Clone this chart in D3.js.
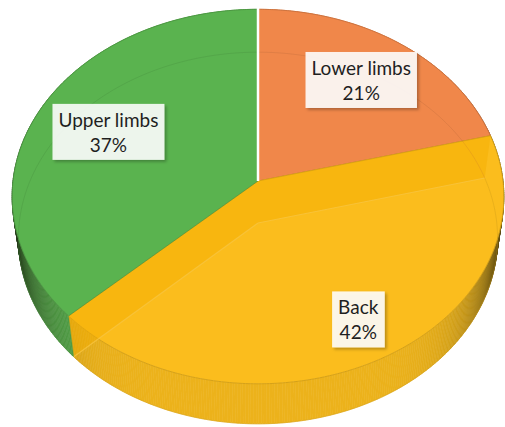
<!DOCTYPE html>
<html>
<head>
<meta charset="utf-8">
<script src="https://cdn.jsdelivr.net/npm/d3@7"></script>
<style>
  html, body { margin: 0; padding: 0; background: #fff; }
</style>
</head>
<body>
<div id="chart"></div>
<script>
var categories = ["Lower limbs", "Back", "Upper limbs"];
var shares = [21, 42, 37];
var sliceColors = ["#F0874A", "#FBBD1D", "#5AB34F"];

var width = 505;
var height = 427;

// 3d view of the pie: scale, camera distance, tilt, thickness
var S = 245;
var D = 7.84;
var phi = Math.asin(0.759);
var cx0 = 258;
var cy0 = 181;
var T = 0.27;
var labelRadius = [0.72, 0.8, 0.68];

function proj(theta, r, y) {
    var X = r * Math.sin(theta), Z = r * Math.cos(theta);
    var yc = y * Math.cos(phi) + Z * Math.sin(phi);
    var zc = -y * Math.sin(phi) + Z * Math.cos(phi) + D;
    return [cx0 + S * D * X / zc, cy0 - S * D * yc / zc];
}

function arcPoints(a0, a1, y) {
    var n = Math.max(2, Math.ceil((a1 - a0) / 0.01));
    var pts = [];
    for (var i = 0; i <= n; i++) {
        pts.push(proj(a0 + (a1 - a0) * i / n, 1, y));
    }
    return pts;
}

var svg = d3.select("#chart").append("svg")
    .attr("width", width)
    .attr("height", height);

var defs = svg.append("defs");
var shadow = defs.append("filter").attr("id", "shadow")
    .attr("x", "-20%").attr("y", "-20%").attr("width", "140%").attr("height", "140%");
shadow.append("feDropShadow")
    .attr("dx", 2).attr("dy", 2)
    .attr("stdDeviation", 1.5)
    .attr("flood-color", "#000")
    .attr("flood-opacity", 0.3);

var pie = d3.pie().sort(null).value(function(d) { return d; });
var arcs = pie(shares);

var line = d3.line();

// outer side walls, shaded like a cylinder
var walls = svg.append("g");
arcs.forEach(function(a, i) {
    var base = d3.interpolateRgb(sliceColors[i], "#000")(0.06);
    var n = Math.ceil((a.endAngle - a.startAngle) / 0.01);
    for (var k = 0; k < n; k++) {
        var t0 = a.startAngle + (a.endAngle - a.startAngle) * k / n;
        var t1 = a.startAngle + (a.endAngle - a.startAngle) * (k + 1) / n;
        var tm = (t0 + t1) / 2;
        var dark = Math.pow(Math.abs(Math.sin(tm)), 7) * 0.8;
        var c = d3.interpolateRgb(base, "#16180c")(dark);
        walls.append("path")
            .attr("d", line([proj(t0, 1, 0), proj(t1, 1, 0), proj(t1, 1, -T), proj(t0, 1, -T)]) + "Z")
            .attr("fill", c)
            .attr("stroke", c)
            .attr("stroke-width", 0.6);
    }
});

// top faces
var tops = svg.append("g");
arcs.forEach(function(a, i) {
    var pts = [proj(0, 0, 0)].concat(arcPoints(a.startAngle, a.endAngle, 0));
    tops.append("path")
        .attr("d", line(pts) + "Z")
        .attr("fill", sliceColors[i])
        .attr("stroke", d3.interpolateRgb(sliceColors[i], "#000")(0.15))
        .attr("stroke-width", 1)
        .attr("stroke-linejoin", "round");
});

// hidden edges seen through the faces
var ghost = svg.append("g");
arcs.forEach(function(a, i) {
    var edge = d3.interpolateRgb(sliceColors[i], "#000")(0.2);
    ghost.append("path")
        .attr("d", line(arcPoints(a.startAngle, a.endAngle, -T)))
        .attr("fill", "none")
        .attr("stroke", edge)
        .attr("stroke-opacity", 0.35)
        .attr("stroke-width", 1);
});
// radial faces of the front slice
var front = arcs[1];
[front.startAngle, front.endAngle].forEach(function(t) {
    ghost.append("path")
        .attr("d", line([proj(t, 0, 0), proj(t, 1, 0), proj(t, 1, -T), proj(t, 0, -T)]) + "Z")
        .attr("fill", "#F4AE00")
        .attr("fill-opacity", 0.45);
    ghost.append("path")
        .attr("d", line([proj(t, 0, -T), proj(t, 1, -T)]))
        .attr("stroke", "#F8C440")
        .attr("stroke-opacity", 0.8)
        .attr("stroke-width", 1.2);
});

// white gap between the two back slices
svg.append("path")
    .attr("d", line([proj(0, 0, 0), proj(0, 1.01, 0)]))
    .attr("stroke", "#fff")
    .attr("stroke-width", 2.5);

// labels
var labels = svg.append("g")
    .style("font-family", "Lato, 'Liberation Sans', sans-serif")
    .style("font-size", "19px")
    .attr("fill", "#1f1f1f");

arcs.forEach(function(a, i) {
    var mid = (a.startAngle + a.endAngle) / 2;
    var p = proj(mid, labelRadius[i], 0);
    var g = labels.append("g");
    var rect = g.append("rect");
    var txt = g.append("text").attr("text-anchor", "middle");
    txt.append("tspan").attr("x", p[0]).attr("y", p[1] - 5).text(categories[i]);
    txt.append("tspan").attr("x", p[0]).attr("y", p[1] + 20).text(shares[i] + "%");
    var bb = txt.node().getBBox();
    rect.attr("x", bb.x - 6)
        .attr("y", p[1] - 28)
        .attr("width", bb.width + 12)
        .attr("height", 56)
        .attr("fill", "#fff")
        .attr("fill-opacity", 0.88)
        .attr("filter", "url(#shadow)");
});
</script>
</body>
</html>
